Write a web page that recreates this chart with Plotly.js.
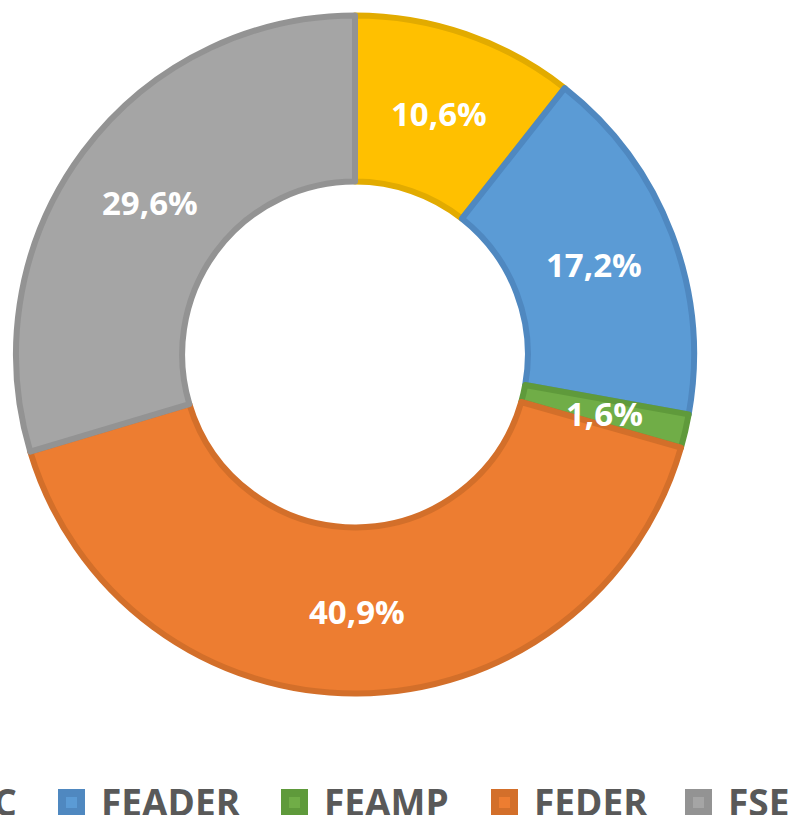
<!DOCTYPE html>
<html>
<head>
<meta charset="utf-8">
<script src="https://cdn.plot.ly/plotly-3.0.1.min.js"></script>
<style>
html,body{margin:0;padding:0;background:#fff;}
#chart{width:789px;height:815px;}
</style>
</head>
<body>
<div id="chart"></div>
<script>
// ---- data ----
var categories = ["FC", "FEADER", "FEAMP", "FEDER", "FSE"];
var shares = [10.6, 17.2, 1.6, 40.9, 29.6];
var labelsText = ["10,6%", "17,2%", "1,6%", "40,9%", "29,6%"];

// ---- styles ----
var fillColors = ["#FFC000", "#5B9BD5", "#70AD47", "#ED7D31", "#A5A5A5"];
var lineColors = ["#E2AB00", "#4F88C0", "#5F9A3B", "#D36F2A", "#939393"];

var W = 789, H = 815;
var cx = 355, cy = 354.5, R = 339, hole = 0.51;

var trace = {
  type: "pie",
  labels: categories,
  values: shares,
  sort: false,
  direction: "clockwise",
  rotation: 0,
  hole: hole,
  marker: { colors: fillColors, line: { color: lineColors, width: 6 } },
  textinfo: "none",
  hoverinfo: "label+percent",
  showlegend: false,
  domain: {
    x: [(cx - R) / W, (cx + R) / W],
    y: [(H - cy - R) / H, (H - cy + R) / H]
  }
};

var annotations = [];
var shapes = [];

// slice labels, placed at the middle of the ring at each slice's mid angle
var total = shares.reduce(function (a, b) { return a + b; }, 0);
var cum = 0;
var rMid = R * (1 + hole) / 2;
for (var i = 0; i < shares.length; i++) {
  var mid = (cum + shares[i] / 2) / total * 2 * Math.PI;
  cum += shares[i];
  var px = cx + rMid * Math.sin(mid);
  var py = cy - rMid * Math.cos(mid) + 1;
  annotations.push({
    xref: "paper", yref: "paper",
    x: px / W, y: (H - py) / H,
    xanchor: "center", yanchor: "middle",
    text: "<b>" + labelsText[i] + "</b>",
    showarrow: false,
    font: { family: "Open Sans, sans-serif", size: 33, color: "#FFFFFF" }
  });
}

// legend (drawn manually: it overflows the page width like the original)
var legendSquareX = [-70, 58, 281, 491, 685];
var legendTextGap = 14;
var legendSq = 27;
var legendTop = 789;
for (var j = 0; j < categories.length; j++) {
  var x0 = legendSquareX[j];
  shapes.push({
    type: "rect", xref: "paper", yref: "paper",
    x0: (x0 + 4) / W, x1: (x0 + legendSq - 4) / W,
    y0: (H - (legendTop + legendSq - 4)) / H, y1: (H - (legendTop + 4)) / H,
    fillcolor: fillColors[j],
    line: { color: lineColors[j], width: 8 }
  });
  annotations.push({
    xref: "paper", yref: "paper",
    x: (x0 + legendSq + legendTextGap) / W, y: (H - (legendTop + 12)) / H,
    xanchor: "left", yanchor: "middle",
    text: "<b>" + categories[j] + "</b>",
    showarrow: false,
    font: { family: "Open Sans, sans-serif", size: 37, color: "#595959" }
  });
}

var layout = {
  width: W, height: H,
  margin: { l: 0, r: 0, t: 0, b: 0, autoexpand: false },
  paper_bgcolor: "#FFFFFF",
  plot_bgcolor: "#FFFFFF",
  showlegend: false,
  annotations: annotations,
  shapes: shapes
};

Plotly.newPlot("chart", [trace], layout, { displayModeBar: false, staticPlot: true });
</script>
</body>
</html>
